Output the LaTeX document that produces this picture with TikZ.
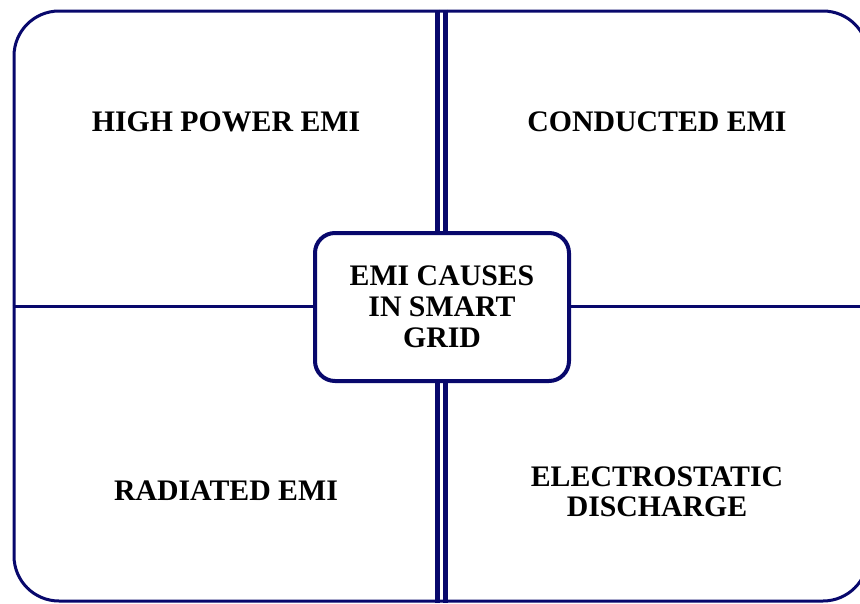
\documentclass[tikz,border=0pt]{standalone}
\usepackage{fontspec}
\setmainfont{Liberation Serif}
\definecolor{navy}{RGB}{8,8,108}
\begin{document}
\begin{tikzpicture}[x=1pt, y=-1pt]
    \tikzstyle{frame} = [rectangle, draw=navy, line width=3pt, rounded corners=45pt, minimum width=854pt, minimum height=590pt]
    \tikzstyle{hub} = [rectangle, draw=navy, fill=white, line width=4pt, rounded corners=20pt, minimum width=254pt, minimum height=148pt, align=center, font=\fontsize{29.8}{31}\selectfont\bfseries]
    \tikzstyle{cause} = [align=center, font=\fontsize{29.8}{30}\selectfont\bfseries]
    \tikzstyle{line} = [draw=navy, line width=3pt]
    \tikzstyle{bar} = [draw=navy, line width=5pt]

    \useasboundingbox (0,0) rectangle (860,603);
    \clip (0,0) rectangle (860,603);

    \node [frame] (frame) at (441,306) {};
    \draw [bar] ([xshift=-3.5pt]frame.north) -- ([xshift=-3.5pt]frame.south);
    \draw [bar] ([xshift=4pt]frame.north) -- ([xshift=4pt]frame.south);
    \draw [line] (frame.west) -- (frame.east);

    \node [hub] (emi) at (442,307) {EMI CAUSES\\IN SMART\\GRID};

    \node [cause] (high) at (226,122) {HIGH POWER EMI};
    \node [cause] (conducted) at (657,122) {CONDUCTED EMI};
    \node [cause] (radiated) at (226,491) {RADIATED EMI};
    \node [cause] (esd) at (657,492) {ELECTROSTATIC\\DISCHARGE};
\end{tikzpicture}
\end{document}
